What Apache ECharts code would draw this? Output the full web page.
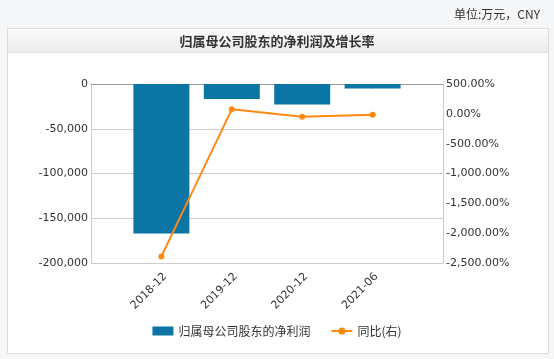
<!DOCTYPE html>
<html>
<head>
<meta charset="utf-8">
<script src="https://cdn.jsdelivr.net/npm/echarts@6/dist/echarts.min.js"></script>
<style>
html,body{margin:0;padding:0;background:#f5f6f8;}
#c{width:554px;height:359px;}
</style>
</head>
<body>
<div id="c"></div>
<script>
var categories = ['', '2018-12', '2019-12', '2020-12', '2021-06', ''];
var netProfit = [null, -167000, -16800, -22900, -4900, null];
var yoyGrowth = [null, -2390, 75, -48, -16, null];
var leftTicks = { min: -200000, max: 0, interval: 50000 };
var rightTicks = { min: -2500, max: 500, interval: 500 };
var seriesNames = ['归属母公司股东的净利润', '同比(右)'];
var titleText = '归属母公司股东的净利润及增长率';
var unitText = '单位:万元，CNY';

function fmtThousands(v) {
  var neg = v < 0; var s = String(Math.abs(Math.round(v)));
  s = s.replace(/\B(?=(\d{3})+(?!\d))/g, ',');
  return (neg ? '-' : '') + s;
}
var numFont = 'DejaVu Sans';
var cjkFont = '"Microsoft YaHei","Noto Sans CJK SC",sans-serif';

var chart = echarts.init(document.getElementById('c'), null, {renderer: 'canvas'});
chart.setOption({
  backgroundColor: '#f5f6f8',
  animation: false,
  graphic: [
    { type: 'rect', shape: { x: 7.5, y: 28.5, width: 541, height: 325 }, style: { fill: '#fff', stroke: '#dcdcdc', lineWidth: 1 }, z: -10 },
    { type: 'rect', shape: { x: 8, y: 29, width: 540, height: 23 }, style: { fill: new echarts.graphic.LinearGradient(0, 0, 0, 1, [{offset: 0, color: '#fbfbfb'}, {offset: 1, color: '#ebebeb'}]) }, z: -9 },
    { type: 'line', shape: { x1: 8, y1: 52.5, x2: 548, y2: 52.5 }, style: { stroke: '#e0e0e0', lineWidth: 1 }, z: -9 },
    { type: 'text', x: 540, y: 14, style: { text: unitText, fill: '#333', font: '12px ' + cjkFont, textAlign: 'right', textVerticalAlign: 'middle' } },
    { type: 'text', x: 277, y: 41, style: { text: titleText, fill: '#333', font: 'bold 13px ' + cjkFont, textAlign: 'center', textVerticalAlign: 'middle' } }
  ],
  grid: { left: 91, right: 111, top: 84, bottom: 96, containLabel: false },
  legend: {
    bottom: 17, left: 'center', itemWidth: 21, itemHeight: 9, itemGap: 20,
    textStyle: { fontFamily: cjkFont, fontSize: 12, color: '#333' },
    data: [
      { name: seriesNames[0], icon: 'rect' },
      { name: seriesNames[1] }
    ]
  },
  xAxis: {
    type: 'category', data: categories, boundaryGap: false,
    axisLine: { lineStyle: { color: '#999' } },
    axisTick: { length: 5, lineStyle: { color: '#999' }, interval: function (i, v) { return v !== ''; } },
    axisLabel: { rotate: 45, margin: 8, interval: 0, verticalAlign: 'top', color: '#333', fontFamily: numFont, fontSize: 11 },
    splitLine: { show: false }
  },
  yAxis: [
    {
      type: 'value', min: leftTicks.min, max: leftTicks.max, interval: leftTicks.interval,
      axisLine: { show: true, lineStyle: { color: '#ccc' } },
      axisTick: { show: false },
      axisLabel: { margin: 3, color: '#333', fontFamily: numFont, fontSize: 11, formatter: fmtThousands },
      splitLine: { lineStyle: { color: '#ccc' } }
    },
    {
      type: 'value', min: rightTicks.min, max: rightTicks.max, interval: rightTicks.interval,
      axisLine: { show: true, lineStyle: { color: '#ccc' } },
      axisTick: { show: false },
      axisLabel: { margin: 3, color: '#333', fontFamily: numFont, fontSize: 11, formatter: function (v) { return fmtThousands(v) + '.00%'; } },
      splitLine: { show: false }
    }
  ],
  series: [
    { name: seriesNames[0], type: 'bar', data: netProfit, barWidth: 56, itemStyle: { color: '#0b75a6' }, yAxisIndex: 0 },
    { name: seriesNames[1], type: 'line', data: yoyGrowth, yAxisIndex: 1, symbol: 'circle', symbolSize: 6, itemStyle: { color: '#ff8a12' }, lineStyle: { color: '#ff8a12', width: 2 }, connectNulls: false }
  ]
});
</script>
</body>
</html>
